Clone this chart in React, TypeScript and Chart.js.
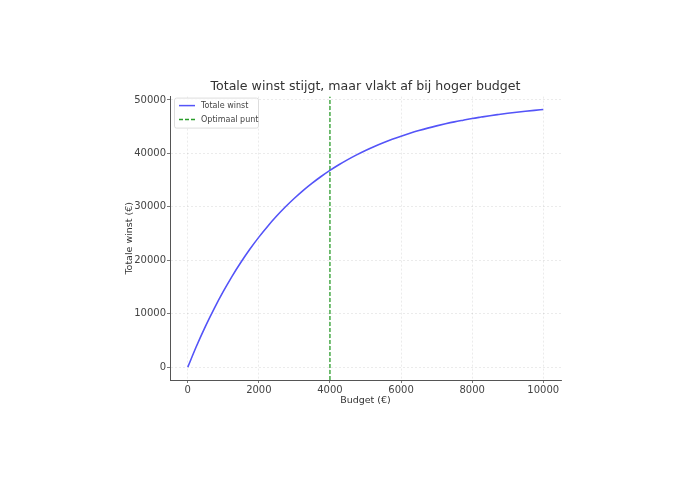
import React, { useEffect, useRef } from "react";
import { Chart, registerables } from "chart.js";

Chart.register(...registerables);

const budgets = [0, 250, 500, 750, 1000, 1250, 1500, 1750, 2000, 2250, 2500, 2750, 3000, 3250, 3500, 3750, 4000, 4250, 4500, 4750, 5000, 5250, 5500, 5750, 6000, 6250, 6500, 6750, 7000, 7250, 7500, 7750, 8000, 8250, 8500, 8750, 9000, 9250, 9500, 9750, 10000];
const totalProfit = [0, 4000, 7680, 11060, 14170, 17040, 19670, 22100, 24330, 26380, 28270, 30010, 31600, 33080, 34430, 35680, 36820, 37870, 38840, 39730, 40560, 41310, 42000, 42650, 43230, 43770, 44270, 44730, 45150, 45540, 45900, 46220, 46530, 46800, 47060, 47290, 47510, 47710, 47890, 48060, 48220];
const optimalBudget = 4000;
const xTicks = [0, 2000, 4000, 6000, 8000, 10000];
const yTicks = [0, 10000, 20000, 30000, 40000, 50000];

const TITLE = "Totale winst stijgt, maar vlakt af bij hoger budget";
const X_LABEL = "Budget (€)";
const Y_LABEL = "Totale winst (€)";
const SERIES_LABEL = "Totale winst";
const OPT_LABEL = "Optimaal punt";

const FONT = "'DejaVu Sans', sans-serif";
const BLUE = "#5454f8";
const GREEN = "#2a9d2a";

export default function App() {
  const ref = useRef<HTMLCanvasElement | null>(null);
  useEffect(() => {
    document.body.style.margin = "0";
    const canvas = ref.current!;
    const xMin = -500, xMax = 10500;
    const yMin = -2411, yMax = 50631;

    const overlay = {
      id: "overlay",
      afterDraw(chart: any) {
        const ctx = chart.ctx;
        const a = chart.chartArea;
        ctx.save();
        ctx.fillStyle = "#333";
        ctx.textAlign = "center";
        ctx.textBaseline = "middle";
        ctx.font = `12.6px ${FONT}`;
        ctx.fillText(TITLE, (a.left + a.right) / 2, 87);
        ctx.font = `9.5px ${FONT}`;
        ctx.fillText(X_LABEL, (a.left + a.right) / 2, 401);
        ctx.save();
        ctx.translate(130, (a.top + a.bottom) / 2);
        ctx.rotate(-Math.PI / 2);
        ctx.fillText(Y_LABEL, 0, 0);
        ctx.restore();
        // legend
        const lx = a.left + 4, ly = a.top + 1, lw = 84, lh = 30;
        ctx.fillStyle = "rgba(255,255,255,0.85)";
        ctx.strokeStyle = "#ddd";
        ctx.lineWidth = 1;
        ctx.beginPath();
        ctx.roundRect(lx + 0.5, ly + 0.5, lw, lh, 2);
        ctx.fill();
        ctx.stroke();
        ctx.lineWidth = 1.5;
        ctx.strokeStyle = BLUE;
        ctx.beginPath();
        ctx.moveTo(lx + 5, ly + 8);
        ctx.lineTo(lx + 21, ly + 8);
        ctx.stroke();
        ctx.strokeStyle = GREEN;
        ctx.setLineDash([4, 2]);
        ctx.beginPath();
        ctx.moveTo(lx + 5, ly + 22);
        ctx.lineTo(lx + 21, ly + 22);
        ctx.stroke();
        ctx.setLineDash([]);
        ctx.fillStyle = "#444";
        ctx.textAlign = "left";
        ctx.font = `8px ${FONT}`;
        ctx.fillText(SERIES_LABEL, lx + 27, ly + 8);
        ctx.fillText(OPT_LABEL, lx + 27, ly + 22);
        ctx.restore();
      },
    };

    const chart = new Chart(canvas, {
      type: "line",
      data: {
        datasets: [
          {
            label: SERIES_LABEL,
            data: budgets.map((b, i) => ({ x: b, y: totalProfit[i] })),
            borderColor: BLUE,
            borderWidth: 1.6,
            pointRadius: 0,
            cubicInterpolationMode: "monotone",
            fill: false,
          },
          {
            label: OPT_LABEL,
            data: [
              { x: optimalBudget, y: yMin },
              { x: optimalBudget, y: yMax },
            ],
            borderColor: GREEN,
            borderWidth: 1.3,
            borderDash: [4, 2],
            pointRadius: 0,
            fill: false,
          },
        ],
      },
      options: {
        responsive: false,
        animation: false,
        events: [],
        layout: { padding: { top: 96.6, right: 119, left: 0, bottom: 0 } },
        plugins: { legend: { display: false }, title: { display: false }, tooltip: { enabled: false } },
        scales: {
          x: {
            type: "linear",
            min: xMin,
            max: xMax,
            afterFit(scale: any) { scale.height = 101; },
            afterBuildTicks(scale: any) { scale.ticks = xTicks.map((v) => ({ value: v })); },
            grid: {
              color: "rgba(0,0,0,0.1)",
              tickColor: "#555",
              tickLength: 3,
              drawTicks: true,
              lineWidth: 0.8,
            },
            border: { display: true, color: "#555", width: 1, dash: [2, 2] },
            ticks: { color: "#444", font: { family: FONT, size: 10 }, padding: 1, maxRotation: 0, autoSkip: false, callback: (v: any) => String(v) },
          },
          y: {
            type: "linear",
            min: yMin,
            max: yMax,
            afterFit(scale: any) { scale.width = 170; },
            afterBuildTicks(scale: any) { scale.ticks = yTicks.map((v) => ({ value: v })); },
            grid: {
              color: "rgba(0,0,0,0.1)",
              tickColor: "#555",
              tickLength: 3,
              lineWidth: 0.8,
            },
            border: { display: true, color: "#555", width: 1, dash: [2, 2] },
            ticks: { color: "#444", font: { family: FONT, size: 10 }, padding: 1, autoSkip: false, callback: (v: any) => String(v) },
          },
        },
      },
      plugins: [overlay],
    } as any);
    return () => chart.destroy();
  }, []);
  return <canvas ref={ref} width={680} height={481} style={{ display: "block" }} />;
}
